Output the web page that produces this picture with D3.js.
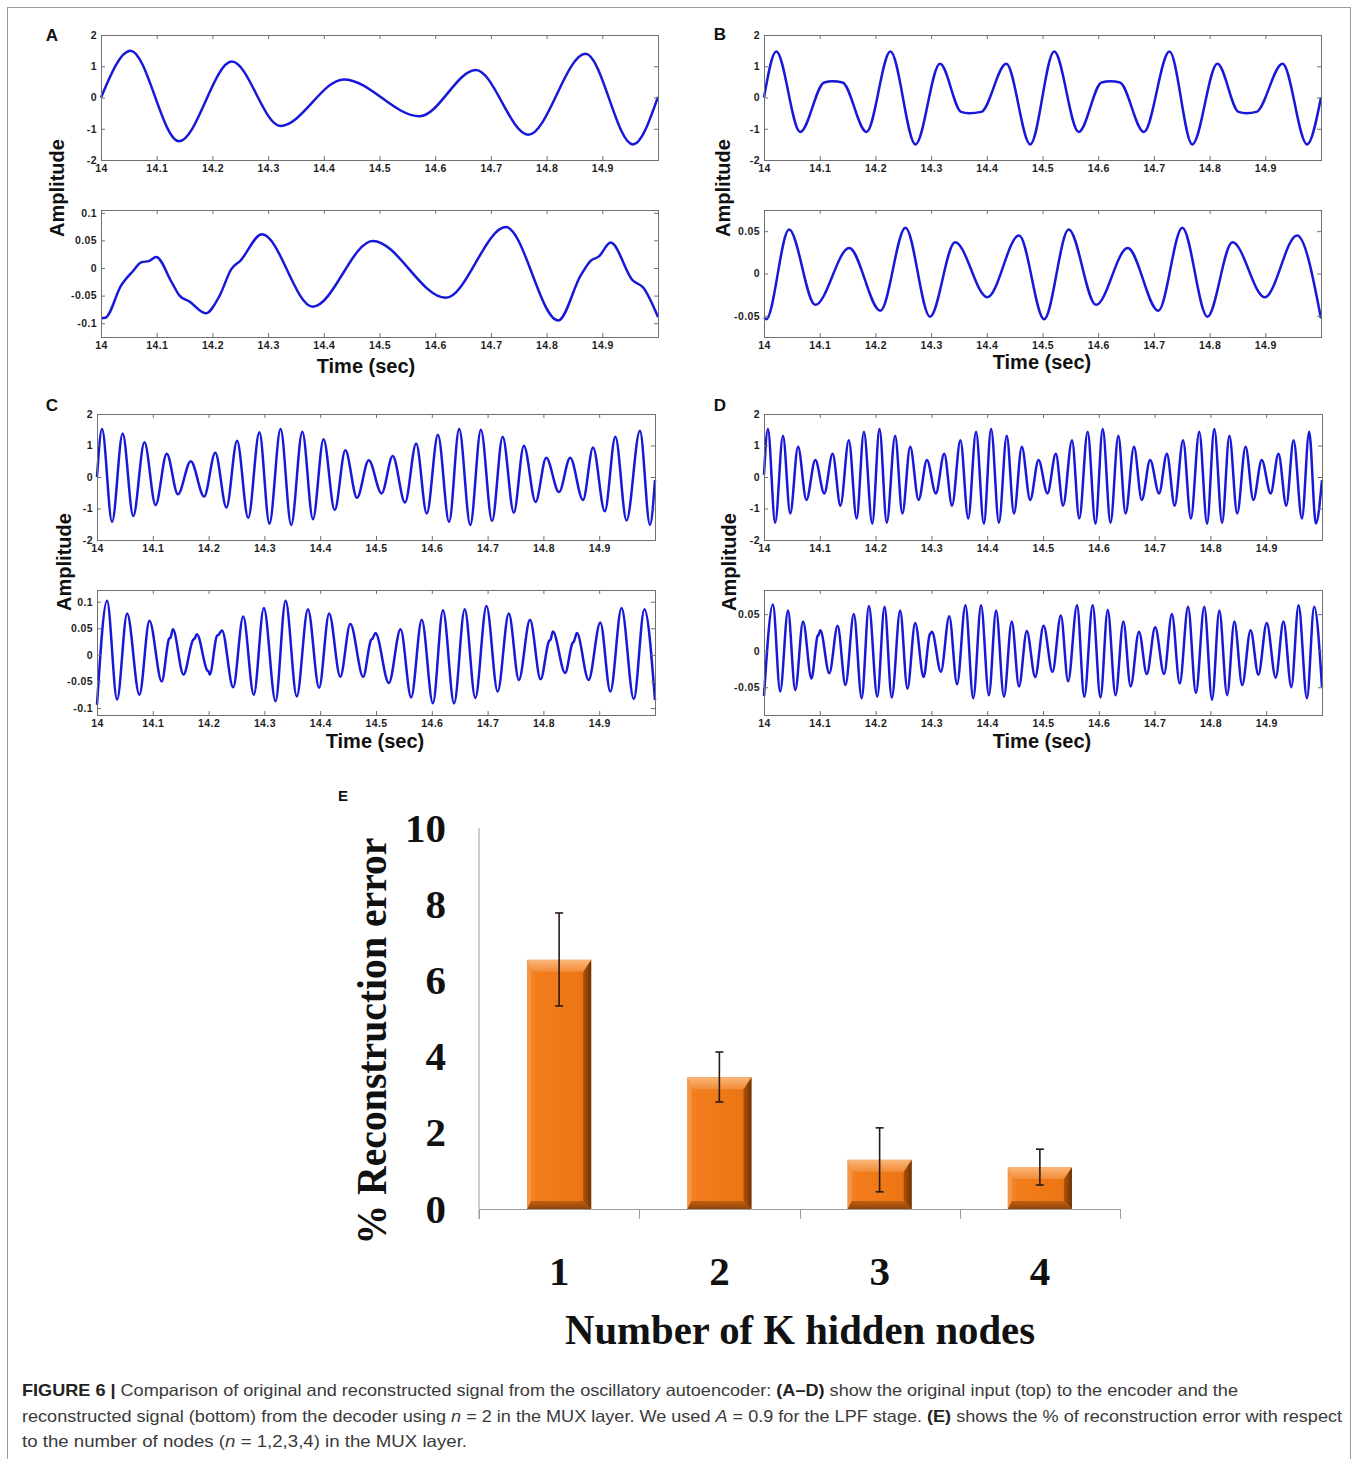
<!DOCTYPE html>
<html><head><meta charset="utf-8">
<script src="https://cdn.jsdelivr.net/npm/d3@7"></script>
<style>body{margin:0;background:#fff}</style>
</head><body>
<script>
// ---------------- DATA ----------------
const timeTicks = [14, 14.1, 14.2, 14.3, 14.4, 14.5, 14.6, 14.7, 14.8, 14.9];
const timeTickLabels = ["14","14.1","14.2","14.3","14.4","14.5","14.6","14.7","14.8","14.9"];
const ampTicksInput = [-2, -1, 0, 1, 2];
const ampTicksA = [-0.1, -0.05, 0, 0.05, 0.1];
const ampTicksB = [-0.05, 0, 0.05];
const ampTicksC = [-0.1, -0.05, 0, 0.05, 0.1];
const ampTicksD = [-0.05, 0, 0.05];

// [time (s), amplitude] read at peaks, troughs and shoulders
const sigA_in = [[14.000,0.00],[14.053,1.50],[14.140,-1.40],[14.235,1.15],[14.322,-0.91],[14.436,0.58],[14.572,-0.60],[14.673,0.88],[14.767,-1.19],[14.870,1.40],[14.955,-1.50],[15.000,0.02]];
const sigA_out = [[14.000,-0.091],[14.008,-0.090],[14.036,-0.032],[14.058,-0.005],[14.072,0.010],[14.087,0.013],[14.099,0.020],[14.127,-0.026],[14.141,-0.050],[14.159,-0.061],[14.188,-0.082],[14.213,-0.050],[14.234,-0.002],[14.250,0.013],[14.289,0.061],[14.380,-0.070],[14.488,0.049],[14.619,-0.054],[14.727,0.074],[14.821,-0.095],[14.861,-0.014],[14.879,0.013],[14.894,0.021],[14.915,0.046],[14.955,-0.023],[14.973,-0.035],[15.000,-0.089]];

const sigB_in = [[14.000,0.00],[14.022,1.47],[14.065,-1.10],[14.108,0.48],[14.123,0.52],[14.141,0.48],[14.184,-1.10],[14.227,1.47],[14.272,-1.50],[14.316,1.08],[14.354,-0.46],[14.368,-0.50],[14.390,-0.46],[14.435,1.08],[14.478,-1.50],[14.521,1.47],[14.565,-1.10],[14.606,0.48],[14.622,0.52],[14.639,0.48],[14.682,-1.10],[14.728,1.47],[14.769,-1.50],[14.814,1.08],[14.852,-0.46],[14.866,-0.50],[14.884,-0.46],[14.931,1.08],[14.975,-1.50],[15.000,0.00]];
const sigB_out = [[14.000,-0.052],[14.004,-0.054],[14.045,0.052],[14.092,-0.037],[14.153,0.030],[14.209,-0.044],[14.254,0.054],[14.298,-0.051],[14.343,0.037],[14.401,-0.028],[14.458,0.045],[14.503,-0.054],[14.547,0.052],[14.596,-0.037],[14.653,0.030],[14.708,-0.044],[14.751,0.054],[14.796,-0.051],[14.841,0.037],[14.899,-0.028],[14.957,0.045],[15.000,-0.053]];

const sigC_in = [[14.000,0.00],
 [14.009,1.52],[14.027,-1.43],[14.046,1.38],[14.065,-1.24],[14.085,1.10],[14.105,-0.89],[14.125,0.74],[14.145,-0.55],
 [14.168,0.50],[14.192,-0.62],[14.212,0.77],[14.232,-0.97],[14.251,1.15],[14.271,-1.30],[14.291,1.42],[14.309,-1.48],
 [14.329,1.52],[14.348,-1.52],[14.368,1.44],[14.387,-1.34],[14.406,1.20],[14.426,-1.05],[14.445,0.85],[14.466,-0.66],
 [14.487,0.53],[14.510,-0.52],[14.530,0.67],[14.552,-0.81],[14.572,1.06],[14.591,-1.16],[14.611,1.34],[14.631,-1.43],
 [14.649,1.52],[14.669,-1.52],[14.688,1.50],[14.708,-1.40],[14.727,1.28],[14.747,-1.13],[14.765,0.99],[14.786,-0.79],
 [14.805,0.61],[14.828,-0.48],[14.848,0.61],[14.871,-0.73],[14.889,0.94],[14.910,-1.09],[14.929,1.28],[14.949,-1.38],
 [14.973,1.47],[14.991,-1.52],[15.000,-0.10]];
const sigC_out = [[14.000,-0.094],
 [14.018,0.102],[14.036,-0.084],[14.054,0.078],[14.076,-0.075],[14.094,0.064],[14.116,-0.050],
 [14.129,0.030],[14.132,0.033],[14.136,0.048],[14.155,-0.037],
 [14.172,0.028],[14.175,0.031],[14.179,0.039],[14.198,-0.030],[14.200,-0.031],[14.202,-0.037],
 [14.215,0.036],[14.218,0.038],[14.224,0.046],[14.244,-0.061],
 [14.262,0.072],[14.281,-0.075],[14.299,0.088],[14.320,-0.087],[14.338,0.102],[14.358,-0.078],
 [14.378,0.086],[14.398,-0.062],[14.416,0.078],[14.436,-0.041],[14.454,0.058],[14.477,-0.041],
 [14.491,0.028],[14.494,0.031],[14.499,0.041],[14.523,-0.053],
 [14.544,0.048],[14.563,-0.080],[14.582,0.066],[14.602,-0.091],[14.620,0.084],[14.640,-0.091],
 [14.659,0.086],[14.678,-0.081],[14.698,0.092],[14.718,-0.069],[14.738,0.078],[14.756,-0.047],
 [14.776,0.066],[14.795,-0.046],
 [14.810,0.026],[14.813,0.029],[14.817,0.044],[14.839,-0.034],
 [14.852,0.022],[14.855,0.026],[14.860,0.041],[14.881,-0.047],
 [14.902,0.061],[14.920,-0.069],[14.940,0.088],[14.962,-0.083],[14.981,0.086],[15.000,-0.085]];

const sigD_in = [[14.000,0.07],
 [14.007,1.52],[14.020,-1.45],[14.034,1.31],[14.047,-1.16],[14.061,0.96],[14.076,-0.73],[14.092,0.54],[14.108,-0.52],
 [14.123,0.74],[14.137,-0.91],[14.152,1.17],[14.166,-1.32],[14.179,1.44],[14.194,-1.48],
 [14.207,1.52],[14.220,-1.45],[14.235,1.31],[14.248,-1.16],[14.262,0.96],[14.277,-0.73],[14.292,0.54],[14.308,-0.52],
 [14.323,0.74],[14.337,-0.91],[14.352,1.17],[14.366,-1.32],[14.380,1.44],[14.394,-1.48],
 [14.407,1.52],[14.421,-1.45],[14.435,1.31],[14.448,-1.16],[14.462,0.96],[14.477,-0.73],[14.492,0.54],[14.508,-0.52],
 [14.523,0.74],[14.536,-0.91],[14.552,1.17],[14.565,-1.32],[14.580,1.44],[14.594,-1.48],
 [14.607,1.52],[14.621,-1.45],[14.635,1.31],[14.648,-1.16],[14.663,0.96],[14.677,-0.73],[14.692,0.54],[14.708,-0.52],
 [14.722,0.74],[14.736,-0.91],[14.751,1.17],[14.765,-1.32],[14.780,1.44],[14.794,-1.48],
 [14.807,1.52],[14.821,-1.45],[14.834,1.31],[14.848,-1.16],[14.863,0.96],[14.877,-0.73],[14.892,0.54],[14.908,-0.52],
 [14.922,0.74],[14.936,-0.91],[14.949,1.17],[14.964,-1.32],[14.977,1.44],[14.989,-1.48],[15.000,-0.10]];
const sigD_out = [[14.000,-0.062],
 [14.016,0.063],[14.029,-0.056],[14.043,0.055],[14.056,-0.054],[14.070,0.040],[14.085,-0.038],
 [14.096,0.020],[14.098,0.022],[14.101,0.028],[14.117,-0.031],
 [14.132,0.034],[14.146,-0.047],[14.161,0.050],[14.175,-0.065],[14.188,0.061],[14.203,-0.063],
 [14.216,0.060],[14.229,-0.064],[14.244,0.055],[14.257,-0.052],[14.271,0.038],[14.286,-0.036],
 [14.297,0.022],[14.299,0.024],[14.301,0.026],[14.317,-0.029],
 [14.332,0.047],[14.346,-0.046],[14.361,0.062],[14.375,-0.065],[14.389,0.062],[14.403,-0.061],
 [14.416,0.055],[14.430,-0.063],[14.444,0.040],[14.457,-0.049],[14.471,0.027],[14.486,-0.036],[14.501,0.034],[14.517,-0.029],
 [14.532,0.048],[14.545,-0.042],[14.561,0.062],[14.574,-0.063],[14.589,0.062],[14.603,-0.064],
 [14.616,0.056],[14.630,-0.061],[14.644,0.040],[14.657,-0.049],[14.672,0.026],[14.686,-0.032],[14.701,0.032],[14.717,-0.032],
 [14.731,0.050],[14.745,-0.045],[14.760,0.060],[14.774,-0.058],[14.789,0.060],[14.803,-0.067],
 [14.816,0.055],[14.830,-0.061],[14.843,0.040],[14.857,-0.047],[14.872,0.028],[14.886,-0.033],[14.901,0.038],[14.917,-0.037],
 [14.931,0.040],[14.945,-0.050],[14.958,0.062],[14.973,-0.065],[14.986,0.060],[15.000,-0.050]];

// Panel E
const hiddenNodes = ["1", "2", "3", "4"];
const reconError = [6.54, 3.46, 1.29, 1.10];
const errHigh = [7.77, 4.12, 2.13, 1.57];
const errLow = [5.33, 2.81, 0.45, 0.63];
const errorTicks = [0, 2, 4, 6, 8, 10];

// ---------------- DRAW ----------------
const SANS = "'Liberation Sans', Arial, Helvetica, sans-serif";
const SERIF = "'Liberation Serif', 'Times New Roman', Times, serif";
const W = 1358, H = 1459;
const svg = d3.select("body").append("svg").attr("width", W).attr("height", H)
  .attr("font-family", SANS);
svg.append("rect").attr("width", W).attr("height", H).attr("fill", "#fff");
svg.append("rect").attr("x", 7.5).attr("y", 7.5).attr("width", 1343).attr("height", 1470)
  .attr("fill", "none").attr("stroke", "#9a9a9a").attr("stroke-width", 1);

const LINE = "#1818d8";
const BOX = "#6f6f6f";

function signalPanel(p) {
  const x = d3.scaleLinear().domain([14, 15]).range([p.x0, p.x1]);
  const y = d3.scaleLinear().domain(p.yDomain).range([p.y1, p.y0]);
  const g = svg.append("g");
  g.append("rect").attr("x", p.x0).attr("y", p.y0).attr("width", p.x1 - p.x0).attr("height", p.y1 - p.y0).attr("fill", "#fff");
  g.append("path").datum(p.data)
    .attr("d", d3.line().x(d => x(d[0])).y(d => y(d[1])).curve(d3.curveMonotoneX))
    .attr("fill", "none").attr("stroke", LINE).attr("stroke-width", 2.5)
    .attr("stroke-linejoin", "round");
  const styleAx = sel => {
    sel.select(".domain").remove();
    sel.selectAll(".tick line").attr("stroke", BOX);
    sel.selectAll(".tick text").attr("font-family", SANS).attr("font-weight", "bold")
      .attr("font-size", 10.5).attr("fill", "#1e1e1e").attr("letter-spacing", 0.4);
  };
  g.append("g").attr("transform", `translate(0,${p.y1})`)
    .call(d3.axisBottom(x).tickValues(timeTicks).tickFormat((d, i) => timeTickLabels[i]).tickSizeInner(-4).tickSizeOuter(0).tickPadding(5))
    .call(styleAx);
  g.append("g").attr("transform", `translate(0,${p.y0})`)
    .call(d3.axisTop(x).tickValues(timeTicks).tickFormat("").tickSizeInner(-4).tickSizeOuter(0))
    .call(styleAx);
  g.append("g").attr("transform", `translate(${p.x0},0)`)
    .call(d3.axisLeft(y).tickValues(p.yTicks).tickFormat(d => String(d)).tickSizeInner(-4).tickSizeOuter(0).tickPadding(4))
    .call(styleAx);
  g.append("g").attr("transform", `translate(${p.x1},0)`)
    .call(d3.axisRight(y).tickValues(p.yTicks).tickFormat("").tickSizeInner(-4).tickSizeOuter(0))
    .call(styleAx);
  g.append("rect").attr("x", p.x0 + 0.5).attr("y", p.y0 + 0.5).attr("width", p.x1 - p.x0).attr("height", p.y1 - p.y0)
    .attr("fill", "none").attr("stroke", BOX).attr("stroke-width", 1);
}

function boldText(x, y, txt, size, opts = {}) {
  const t = svg.append("text").attr("x", x).attr("y", y).text(txt)
    .attr("font-family", opts.family || SANS).attr("font-weight", "bold")
    .attr("font-size", size).attr("fill", opts.fill || "#111")
    .attr("text-anchor", opts.anchor || "middle");
  if (opts.rotate) t.attr("transform", `rotate(-90,${x},${y})`);
  if (opts.len) t.attr("textLength", opts.len).attr("lengthAdjust", "spacingAndGlyphs");
  return t;
}

// Panels A–D
signalPanel({x0: 101, x1: 658, y0: 35, y1: 160, yDomain: [-2, 2], yTicks: ampTicksInput, data: sigA_in});
signalPanel({x0: 101, x1: 658, y0: 210, y1: 337, yDomain: [-0.125, 0.105], yTicks: ampTicksA, data: sigA_out});
signalPanel({x0: 764, x1: 1321, y0: 35, y1: 160, yDomain: [-2, 2], yTicks: ampTicksInput, data: sigB_in});
signalPanel({x0: 764, x1: 1321, y0: 210, y1: 337, yDomain: [-0.075, 0.075], yTicks: ampTicksB, data: sigB_out});
signalPanel({x0: 97, x1: 655, y0: 414, y1: 540, yDomain: [-2, 2], yTicks: ampTicksInput, data: sigC_in});
signalPanel({x0: 97, x1: 655, y0: 590, y1: 715, yDomain: [-0.113, 0.122], yTicks: ampTicksC, data: sigC_out});
signalPanel({x0: 764, x1: 1322, y0: 414, y1: 540, yDomain: [-2, 2], yTicks: ampTicksInput, data: sigD_in});
signalPanel({x0: 764, x1: 1322, y0: 590, y1: 715, yDomain: [-0.088, 0.083], yTicks: ampTicksD, data: sigD_out});

// Panel letters
boldText(52, 41, "A", 17);
boldText(720, 40, "B", 17);
boldText(52, 411, "C", 17);
boldText(720, 411, "D", 17);
boldText(343, 801, "E", 15);

// Axis titles A–D
boldText(64, 188, "Amplitude", 20, {rotate: true});
boldText(730, 188, "Amplitude", 20, {rotate: true});
boldText(71, 562, "Amplitude", 20, {rotate: true});
boldText(736, 562, "Amplitude", 20, {rotate: true});
boldText(366, 373, "Time (sec)", 20);
boldText(1042, 369, "Time (sec)", 20);
boldText(375, 748, "Time (sec)", 20);
boldText(1042, 748, "Time (sec)", 20);

// ---------------- Panel E ----------------
const ex0 = 479, ex1 = 1120, ey0 = 828, ey1 = 1209;
const xE = d3.scaleBand().domain(hiddenNodes).range([ex0, ex1]).paddingInner(0.6).paddingOuter(0.3);
const yE = d3.scaleLinear().domain([0, 10]).range([ey1, ey0]);
const gE = svg.append("g");

const defs = svg.append("defs");
const lg = (id, x2, y2, stops) => {
  const g = defs.append("linearGradient").attr("id", id).attr("x1", 0).attr("y1", 0).attr("x2", x2).attr("y2", y2);
  stops.forEach(s => g.append("stop").attr("offset", s[0]).attr("stop-color", s[1]));
};
lg("barBody", 1, 0, [[0, "#F38A30"], [0.15, "#F27D1C"], [0.8, "#EE7614"], [1, "#E06C10"]]);
lg("barTop", 0, 1, [[0, "#F9B77A"], [1, "#F28B36"]]);
lg("barRight", 1, 0, [[0, "#B0540C"], [1, "#6E3306"]]);
lg("barBottom", 0, 1, [[0, "#C4600F"], [1, "#8E440A"]]);

// axes lines
gE.append("line").attr("x1", ex0).attr("x2", ex0).attr("y1", ey0).attr("y2", ey1 + 10).attr("stroke", "#9c9c9c");
gE.append("line").attr("x1", ex0).attr("x2", ex1).attr("y1", ey1 + 0.5).attr("y2", ey1 + 0.5).attr("stroke", "#9c9c9c");
d3.range(hiddenNodes.length + 1).forEach(i => {
  const xx = Math.round(ex0 + i * xE.step()) + 0.5;
  gE.append("line").attr("x1", xx).attr("x2", xx).attr("y1", ey1).attr("y2", ey1 + 10).attr("stroke", "#9c9c9c");
});

// y tick labels
gE.append("g").attr("transform", `translate(${ex0},0)`)
  .call(d3.axisLeft(yE).tickValues(errorTicks).tickFormat(d => String(d)).tickSize(0).tickPadding(33))
  .call(s => { s.select(".domain").remove();
    s.selectAll("text").attr("font-family", SERIF).attr("font-weight", "bold").attr("font-size", 41).attr("fill", "#111"); });
// category labels
gE.append("g").attr("transform", `translate(0,${ey1})`)
  .call(d3.axisBottom(xE).tickSize(0).tickPadding(47))
  .call(s => { s.select(".domain").remove();
    s.selectAll("text").attr("font-family", SERIF).attr("font-weight", "bold").attr("font-size", 41).attr("fill", "#111"); });

// bars with bevel
hiddenNodes.forEach((c, i) => {
  const x = xE(c), w = xE.bandwidth(), y = yE(reconError[i]), h = ey1 - y;
  const bt = Math.min(12, h / 3), bl = 4, br = 8, bb = Math.min(8, h / 4);
  const b = gE.append("g");
  b.append("rect").attr("x", x).attr("y", y).attr("width", w).attr("height", h).attr("fill", "url(#barBody)");
  const poly = (pts, fill) => b.append("polygon").attr("points", pts.map(p => p.join(",")).join(" ")).attr("fill", fill);
  poly([[x, y], [x + bl, y + bt], [x + bl, y + h - bb], [x, y + h]], "#F59746");
  poly([[x + w, y], [x + w - br, y + bt], [x + w - br, y + h - bb], [x + w, y + h]], "url(#barRight)");
  poly([[x, y + h], [x + bl, y + h - bb], [x + w - br, y + h - bb], [x + w, y + h]], "url(#barBottom)");
  poly([[x, y], [x + w, y], [x + w - br, y + bt], [x + bl, y + bt]], "url(#barTop)");
  // error bar
  const cx = x + w / 2;
  const eb = gE.append("g").attr("stroke", "#2a1a12").attr("stroke-width", 1.6);
  eb.append("line").attr("x1", cx).attr("x2", cx).attr("y1", yE(errHigh[i])).attr("y2", yE(errLow[i]));
  eb.append("line").attr("x1", cx - 4).attr("x2", cx + 4).attr("y1", yE(errHigh[i])).attr("y2", yE(errHigh[i]));
  eb.append("line").attr("x1", cx - 4).attr("x2", cx + 4).attr("y1", yE(errLow[i])).attr("y2", yE(errLow[i]));
});

// E titles
boldText(386, 1041, "% Reconstruction error", 42, {family: SERIF, rotate: true, len: 407});
boldText(800, 1344, "Number of K hidden nodes", 42, {family: SERIF, len: 470});

// ---------------- Caption ----------------
const captionLines = [
  {y: 1396, len: 1216, parts: [["FIGURE 6 |", "b"], [" Comparison of original and reconstructed signal from the oscillatory autoencoder: ", ""], ["(A–D)", "b"], [" show the original input (top) to the encoder and the", ""]]},
  {y: 1422, len: 1320, parts: [["reconstructed signal (bottom) from the decoder using ", ""], ["n", "i"], [" = 2 in the MUX layer. We used ", ""], ["A", "i"], [" = 0.9 for the LPF stage. ", ""], ["(E)", "b"], [" shows the % of reconstruction error with respect", ""]]},
  {y: 1447, len: 445, parts: [["to the number of nodes (", ""], ["n", "i"], [" = 1,2,3,4) in the MUX layer.", ""]]}
];
captionLines.forEach(L => {
  const t = svg.append("text").attr("x", 22).attr("y", L.y).attr("font-family", SANS)
    .attr("font-size", 16.5).attr("fill", "#3a3a3a").style("white-space", "pre")
    .attr("textLength", L.len).attr("lengthAdjust", "spacingAndGlyphs");
  L.parts.forEach(p => {
    const s = t.append("tspan").text(p[0]);
    if (p[1] === "b") s.attr("font-weight", "bold").attr("fill", "#222");
    if (p[1] === "i") s.attr("font-style", "italic");
  });
});
</script>
</body></html>
